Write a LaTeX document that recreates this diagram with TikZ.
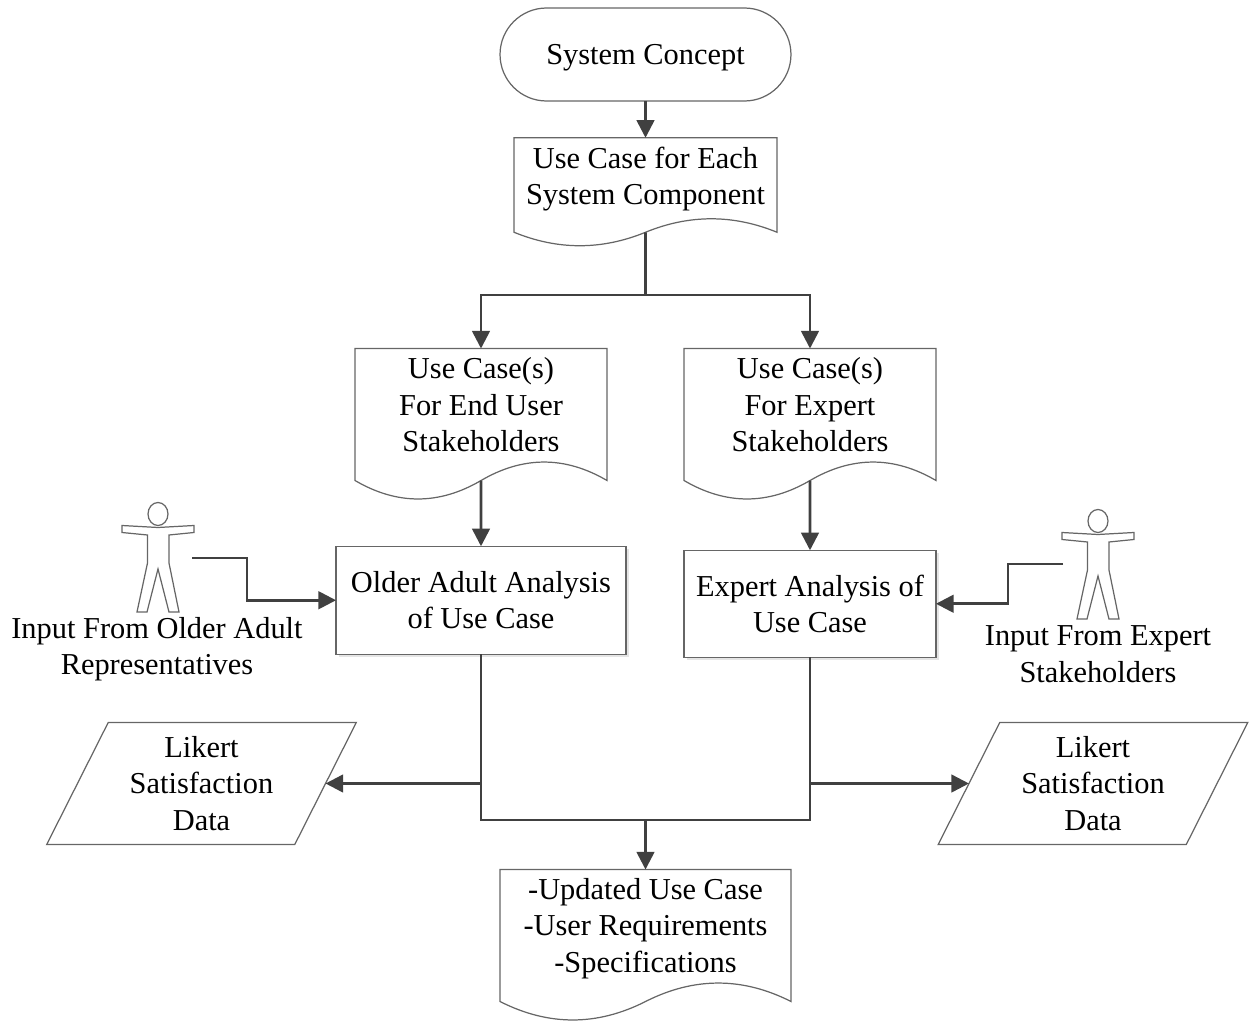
\documentclass[tikz,border=0pt]{standalone}
\usepackage{fontspec}
\setmainfont{Liberation Serif}
\usetikzlibrary{arrows.meta,shapes.geometric,shapes.misc,shadows}

\tikzset{
  boxline/.style={draw=black!60,line width=0.7pt},
  flow/.style={draw=black!75,line width=1.5pt,-{Triangle[length=10pt,width=10pt]}},
  plainflow/.style={draw=black!75,line width=1.5pt},
  flowtext/.style={font=\fontsize{17.3}{20.8}\selectfont,align=center,inner sep=0pt,outer sep=0pt},
  docbox/.style={flowtext,minimum width=#1,minimum height=2.26cm},
  analysisbox/.style={boxline,flowtext,fill=white,general shadow={fill=black!10,shadow xshift=1.5pt,shadow yshift=-1.5pt}},
  databox/.style={boxline,flowtext,trapezium,trapezium left angle=63.4,trapezium right angle=116.6,
    trapezium stretches=true,minimum width=6.2cm,minimum height=2.44cm},
  person/.pic={
    \draw[boxline] (1,0) ellipse (10 and 11.5);
    \draw[boxline] (1,13.5) -- (-35,11.5) -- (-35,18.5) -- (-9.5,21) -- (-9.5,49)
      -- (-20,98) -- (-10,98) -- (1,55) -- (12,98) -- (22,98) -- (12,49) -- (12,21)
      -- (37,18.5) -- (37,11.5) -- cycle;
  },
}

% outline of a document node: name, drop to the wave, wave height, width
\newcommand{\wavebox}[4]{
  \draw[boxline] (#1.north west) -- ++(0,#2)
    .. controls +({#4/6},{#3*1.33}) and +({-#4/6},{#3*1.33}) .. ++({#4/2},0) coordinate (#1-wave)
    .. controls +({#4/6},{-#3*1.33}) and +({-#4/6},{-#3*1.33}) .. ++({#4/2},0)
    -- (#1.north east) -- cycle;
}

\begin{document}
\begin{tikzpicture}[x=0.02cm,y=-0.02cm]

\useasboundingbox (0,0) rectangle (1249,1021);

\node[boxline,flowtext,rounded rectangle,minimum width=5.82cm,minimum height=1.86cm,text height=15.3pt,text depth=3.4pt] (concept) at (645.5,54.5) {System Concept};

\node[docbox=5.26cm,minimum height=1.66cm] (usecase) at (645.5,179.25) {Use Case for Each\\System Component};
\wavebox{usecase}{94.5}{13.5}{263}

\coordinate (split) at (645.5,295);

\node[docbox=5.04cm] (enduser) at (481,405) {Use Case(s)\\For End User\\Stakeholders};
\wavebox{enduser}{132}{18.5}{252}
\node[docbox=5.04cm] (expertdoc) at (810,405) {Use Case(s)\\For Expert\\Stakeholders};
\wavebox{expertdoc}{132}{18.5}{252}

\node[analysisbox,minimum width=5.8cm,minimum height=2.16cm] (olderbox) at (481,600.25) {Older Adult Analysis\\of Use Case};
\node[analysisbox,minimum width=5.04cm,minimum height=2.14cm] (expertbox) at (810,603.75) {Expert Analysis of\\Use Case};

\pic at (157,514) {person};
\pic at (1097,521) {person};
\coordinate (olderout) at (192,558);
\coordinate (expertout) at (1063,564);
\node[flowtext] (olderlabel) at (157,649) {Input From Older Adult\\Representatives};
\node[flowtext] (expertlabel) at (1098,654) {Input From Expert\\Stakeholders};

\node[databox] (likertleft) at (201.5,783.5) {Likert\\Satisfaction\\Data};
\node[databox] (likertright) at (1093,783.5) {Likert\\Satisfaction\\Data};

\coordinate (merge) at (645.5,820);
\coordinate (olderjoin) at (481,783.5);
\coordinate (expertjoin) at (810,783.5);

\node[docbox=5.82cm,minimum height=2.36cm] (results) at (645.5,928.5) {-Updated Use Case\\-User Requirements\\-Specifications};
\wavebox{results}{132}{18.5}{291}

\draw[flow] (concept.south) -- (usecase.north);
\draw[plainflow] (usecase-wave) -- (split);
\draw[flow] (split) -| (enduser.north);
\draw[flow] (split) -| (expertdoc.north);
\draw[flow] (enduser-wave) -- (olderbox.north);
\draw[flow] (expertdoc-wave) -- (expertbox.north);
\draw[flow] (olderout) -- ++(55,0) |- (olderbox.west);
\draw[flow] (expertout) -- ++(-55,0) |- (expertbox.east);
\draw[plainflow] (olderbox.south) |- (merge) -| (expertbox.south);
\draw[flow] (olderjoin) -- (likertleft.east);
\draw[flow] (expertjoin) -- (likertright.west);
\draw[flow] (merge) -- (results.north);

\end{tikzpicture}
\end{document}
